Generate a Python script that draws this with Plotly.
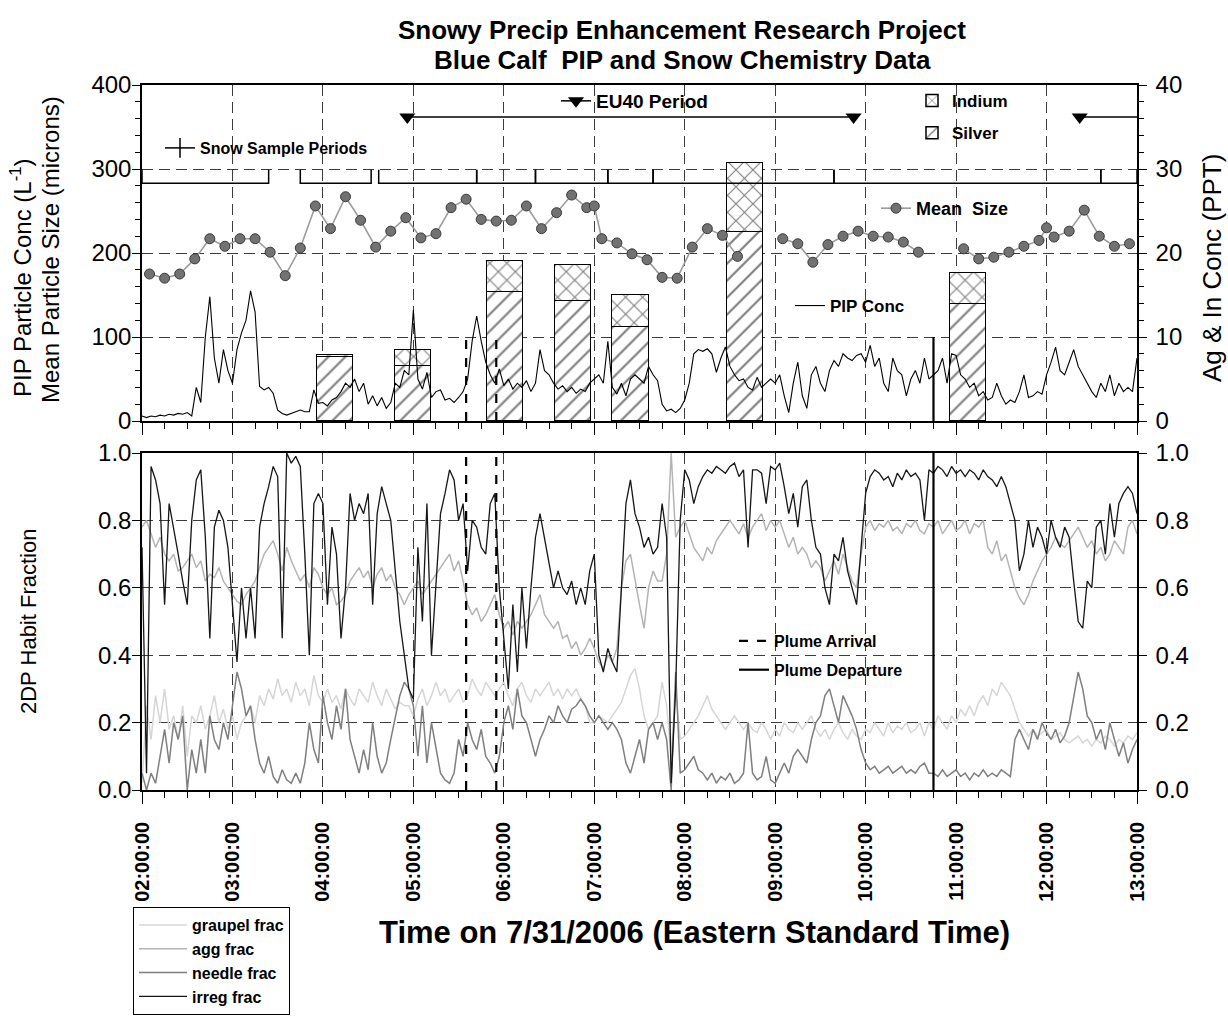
import pandas as pd
import plotly.graph_objects as go

DAY = "2006-07-31"

# ---------------- 3-minute PIP / 2DP records, 02:00 .. 13:00 ----------------
pip_conc = [
    6, 4, 6, 5, 7, 6, 8, 7, 9, 8, 10, 6, 40, 22, 100, 148, 75, 45, 85, 60,
    45, 85, 105, 120, 155, 130, 41, 37, 40, 33, 13, 9, 7, 9, 11, 13, 11, 11, 37, 21,
    22, 18, 25, 28, 35, 45, 40, 50, 35, 45, 20, 30, 18, 28, 15, 22, 45, 40, 60, 55,
    132, 50, 38, 58, 28, 35, 37, 25, 27, 22, 28, 35, 50, 95, 125, 95, 70, 55, 45, 62,
    42, 50, 38, 45, 40, 48, 35, 45, 85, 60, 55, 45, 38, 42, 35, 40, 33, 38, 35, 45,
    50, 55, 45, 95, 40, 32, 45, 30, 50, 55, 50, 45, 65, 55, 48, 20, 12, 14, 10, 15,
    25, 45, 80, 85, 83, 86, 80, 58, 75, 88, 65, 55, 48, 50, 40, 37, 52, 40, 45, 50,
    45, 55, 30, 10, 45, 70, 30, 15, 55, 65, 45, 35, 60, 72, 65, 80, 75, 72, 78, 80,
    70, 90, 65, 75, 45, 35, 75, 60, 55, 30, 50, 60, 45, 75, 50, 55, 60, 75, 45, 80,
    78, 55, 50, 40, 45, 30, 35, 25, 28, 45, 30, 20, 25, 22, 35, 55, 28, 30, 35, 32,
    55, 70, 88, 60, 55, 70, 85, 65, 55, 45, 35, 28, 45, 35, 55, 30, 45, 35, 40, 35,
    75,
]

irreg_frac = [
    0.72, 0.05, 0.96, 0.92, 0.85, 0.55, 0.85, 0.78, 0.70, 0.62, 0.55, 0.80, 0.92, 0.95, 0.75, 0.45, 0.78, 0.83, 0.80, 0.72,
    0.55, 0.38, 0.60, 0.45, 0.60, 0.45, 0.78, 0.85, 0.90, 0.96, 0.93, 0.45, 1.00, 0.97, 0.99, 0.96, 0.70, 0.40, 0.85, 0.88,
    0.85, 0.55, 0.78, 0.70, 0.45, 0.60, 0.88, 0.80, 0.85, 0.82, 0.88, 0.55, 0.82, 0.90, 0.85, 0.80, 0.65, 0.50, 0.40, 0.30,
    0.27, 0.72, 0.50, 0.85, 0.40, 0.60, 0.82, 0.88, 0.95, 0.92, 0.80, 0.85, 0.65, 0.80, 0.78, 0.72, 0.70, 0.85, 0.88, 0.60,
    0.45, 0.30, 0.55, 0.35, 0.60, 0.42, 0.60, 0.75, 0.82, 0.75, 0.68, 0.60, 0.65, 0.60, 0.58, 0.62, 0.55, 0.60, 0.55, 0.65,
    0.70, 0.40, 0.35, 0.42, 0.38, 0.35, 0.60, 0.85, 0.92, 0.82, 0.78, 0.72, 0.75, 0.70, 0.72, 0.85, 0.75, 0.02, 0.30, 0.80,
    0.95, 0.92, 0.85, 0.90, 0.93, 0.95, 0.94, 0.96, 0.95, 0.94, 0.96, 0.97, 0.93, 0.95, 0.72, 0.95, 0.95, 0.94, 0.85, 0.96,
    0.95, 0.97, 0.90, 0.82, 0.88, 0.78, 0.90, 0.92, 0.80, 0.72, 0.70, 0.60, 0.55, 0.70, 0.68, 0.75, 0.65, 0.60, 0.55, 0.72,
    0.88, 0.93, 0.95, 0.94, 0.92, 0.93, 0.90, 0.94, 0.92, 0.95, 0.93, 0.94, 0.92, 0.80, 0.95, 0.94, 0.96, 0.95, 0.93, 0.96,
    0.94, 0.95, 0.93, 0.95, 0.94, 0.92, 0.95, 0.93, 0.92, 0.90, 0.93, 0.90, 0.85, 0.80, 0.65, 0.70, 0.80, 0.72, 0.78, 0.75,
    0.70, 0.80, 0.75, 0.72, 0.78, 0.75, 0.62, 0.50, 0.48, 0.62, 0.60, 0.78, 0.80, 0.70, 0.85, 0.75, 0.85, 0.88, 0.90, 0.88,
    0.82,
]

agg_frac = [
    0.78, 0.80, 0.76, 0.72, 0.75, 0.70, 0.68, 0.70, 0.65, 0.66, 0.68, 0.70, 0.66, 0.68, 0.62, 0.64, 0.63, 0.66, 0.62, 0.60,
    0.58, 0.56, 0.55, 0.58, 0.60, 0.62, 0.66, 0.70, 0.72, 0.74, 0.70, 0.65, 0.72, 0.68, 0.65, 0.62, 0.64, 0.60, 0.66, 0.64,
    0.60, 0.58, 0.60, 0.55, 0.56, 0.58, 0.62, 0.64, 0.66, 0.63, 0.65, 0.60, 0.64, 0.66, 0.62, 0.64, 0.60, 0.58, 0.55, 0.58,
    0.60, 0.62, 0.58, 0.60, 0.62, 0.64, 0.66, 0.68, 0.70, 0.65, 0.68, 0.62, 0.55, 0.52, 0.54, 0.50, 0.52, 0.55, 0.58, 0.52,
    0.48, 0.50, 0.46, 0.50, 0.48, 0.50, 0.52, 0.55, 0.58, 0.52, 0.50, 0.48, 0.50, 0.45, 0.46, 0.42, 0.44, 0.40, 0.42, 0.45,
    0.42, 0.38, 0.36, 0.40, 0.38, 0.42, 0.60, 0.68, 0.70, 0.62, 0.55, 0.48, 0.60, 0.65, 0.62, 0.62, 0.70, 1.00, 0.75, 0.78,
    0.80, 0.76, 0.72, 0.70, 0.68, 0.72, 0.70, 0.74, 0.76, 0.78, 0.80, 0.78, 0.76, 0.79, 0.75, 0.78, 0.80, 0.82, 0.77, 0.80,
    0.78, 0.80, 0.76, 0.72, 0.75, 0.70, 0.72, 0.70, 0.66, 0.68, 0.66, 0.62, 0.65, 0.68, 0.64, 0.70, 0.66, 0.62, 0.60, 0.70,
    0.78, 0.80, 0.77, 0.79, 0.78, 0.80, 0.77, 0.78, 0.76, 0.79, 0.78, 0.80, 0.77, 0.76, 0.79, 0.78, 0.80, 0.76, 0.78, 0.80,
    0.77, 0.78, 0.80, 0.76, 0.79, 0.78, 0.80, 0.72, 0.70, 0.74, 0.68, 0.70, 0.65, 0.60, 0.57, 0.55, 0.58, 0.62, 0.65, 0.68,
    0.70, 0.72, 0.75, 0.73, 0.72, 0.74, 0.76, 0.78, 0.75, 0.72, 0.74, 0.70, 0.72, 0.68, 0.70, 0.74, 0.72, 0.70, 0.78, 0.80,
    0.76,
]

graupel_frac = [
    0.02, 0.25, 0.15, 0.28, 0.20, 0.30, 0.18, 0.22, 0.15, 0.25, 0.10, 0.22, 0.20, 0.25, 0.18, 0.22, 0.28, 0.20, 0.24, 0.18,
    0.22, 0.15, 0.20, 0.22, 0.25, 0.20, 0.28, 0.25, 0.30, 0.27, 0.33, 0.28, 0.30, 0.26, 0.32, 0.28, 0.30, 0.25, 0.34, 0.28,
    0.26, 0.30, 0.26, 0.28, 0.24, 0.30, 0.27, 0.25, 0.30, 0.28, 0.26, 0.32, 0.28, 0.25, 0.30, 0.27, 0.24, 0.26, 0.25, 0.25,
    0.22, 0.27, 0.30, 0.25, 0.28, 0.32, 0.28, 0.30, 0.26, 0.28, 0.30, 0.26, 0.28, 0.33, 0.30, 0.28, 0.32, 0.30, 0.28, 0.30,
    0.32, 0.28, 0.25, 0.30, 0.32, 0.28, 0.26, 0.30, 0.28, 0.30, 0.32, 0.28, 0.30, 0.27, 0.30, 0.28, 0.30, 0.27, 0.25, 0.20,
    0.20, 0.22, 0.21, 0.20, 0.22, 0.24, 0.26, 0.30, 0.34, 0.36, 0.30, 0.22, 0.18, 0.20, 0.22, 0.32, 0.25, 0.10, 0.30, 0.15,
    0.16, 0.18, 0.20, 0.22, 0.25, 0.28, 0.24, 0.22, 0.20, 0.18, 0.20, 0.22, 0.20, 0.18, 0.20, 0.18, 0.17, 0.20, 0.18, 0.15,
    0.18, 0.16, 0.20, 0.18, 0.17, 0.20, 0.18, 0.20, 0.22, 0.18, 0.16, 0.18, 0.15, 0.18, 0.20, 0.17, 0.15, 0.18, 0.16, 0.15,
    0.18, 0.17, 0.20, 0.18, 0.16, 0.20, 0.17, 0.19, 0.18, 0.20, 0.17, 0.18, 0.20, 0.16, 0.20, 0.18, 0.22, 0.20, 0.18, 0.22,
    0.20, 0.24, 0.22, 0.25, 0.22, 0.26, 0.28, 0.25, 0.30, 0.28, 0.32, 0.30, 0.28, 0.24, 0.20, 0.18, 0.16, 0.18, 0.16, 0.17,
    0.18, 0.15, 0.16, 0.17, 0.15, 0.14, 0.15, 0.16, 0.14, 0.15, 0.13, 0.15, 0.14, 0.16, 0.15, 0.13, 0.15, 0.14, 0.16, 0.15,
    0.17,
]

needle_frac = [
    0.05, 0.00, 0.05, 0.02, 0.10, 0.18, 0.08, 0.20, 0.15, 0.22, 0.00, 0.12, 0.05, 0.15, 0.05, 0.22, 0.15, 0.12, 0.20, 0.15,
    0.25, 0.35, 0.30, 0.22, 0.25, 0.15, 0.08, 0.05, 0.10, 0.04, 0.02, 0.06, 0.03, 0.02, 0.05, 0.02, 0.08, 0.20, 0.12, 0.08,
    0.28, 0.20, 0.15, 0.25, 0.18, 0.30, 0.15, 0.10, 0.05, 0.12, 0.06, 0.20, 0.10, 0.05, 0.08, 0.15, 0.22, 0.28, 0.32, 0.30,
    0.25, 0.10, 0.25, 0.08, 0.20, 0.12, 0.05, 0.03, 0.02, 0.05, 0.15, 0.10, 0.20, 0.15, 0.12, 0.18, 0.10, 0.08, 0.05, 0.10,
    0.20, 0.25, 0.18, 0.30, 0.22, 0.20, 0.15, 0.10, 0.15, 0.18, 0.22, 0.20, 0.25, 0.22, 0.20, 0.24, 0.25, 0.27, 0.25, 0.22,
    0.20, 0.22, 0.20, 0.18, 0.20, 0.18, 0.15, 0.08, 0.05, 0.10, 0.15, 0.08, 0.18, 0.20, 0.15, 0.20, 0.15, 0.00, 0.35, 0.05,
    0.06, 0.08, 0.10, 0.06, 0.05, 0.03, 0.05, 0.02, 0.04, 0.03, 0.05, 0.02, 0.03, 0.05, 0.20, 0.05, 0.03, 0.04, 0.10, 0.03,
    0.02, 0.05, 0.08, 0.05, 0.10, 0.12, 0.10, 0.08, 0.15, 0.20, 0.22, 0.28, 0.30, 0.25, 0.20, 0.28, 0.25, 0.22, 0.18, 0.12,
    0.08, 0.06, 0.07, 0.05, 0.06, 0.07, 0.05, 0.06, 0.07, 0.05, 0.06, 0.05, 0.07, 0.08, 0.05, 0.05, 0.04, 0.06, 0.04, 0.05,
    0.06, 0.04, 0.05, 0.03, 0.05, 0.04, 0.06, 0.04, 0.05, 0.04, 0.06, 0.05, 0.04, 0.15, 0.18, 0.15, 0.12, 0.18, 0.15, 0.20,
    0.17, 0.15, 0.18, 0.14, 0.16, 0.20, 0.28, 0.35, 0.30, 0.22, 0.20, 0.15, 0.18, 0.12, 0.20, 0.15, 0.10, 0.14, 0.08, 0.12,
    0.15,
]

# ---------------- 10-minute mean particle size (microns) ----------------
size_times = [
    "02:05", "02:15", "02:25", "02:35", "02:45", "02:55",
    "03:05", "03:15", "03:25", "03:35", "03:45", "03:55",
    "04:05", "04:15", "04:25", "04:35", "04:45", "04:55",
    "05:05", "05:15", "05:25", "05:35", "05:45", "05:55",
    "06:05", "06:15", "06:25", "06:35", "06:45", "06:55", "07:00",
    "07:05", "07:15", "07:25", "07:35", "07:45", "07:55",
    "08:05", "08:15", "08:25", "08:35", "08:45", "08:55",
    "09:05", "09:15", "09:25", "09:35", "09:45", "09:55",
    "10:05", "10:15", "10:25", "10:35", "10:45", "10:55",
    "11:05", "11:15", "11:25", "11:35", "11:45", "11:55", "12:00",
    "12:05", "12:15", "12:25", "12:35", "12:45", "12:55",
]
mean_size = [
    175, 170, 175, 193, 217, 208,
    217, 217, 201, 173, 206, 256,
    229, 267, 239, 207, 226, 242,
    218, 223, 254, 264, 240, 238,
    239, 256, 229, 248, 269, 254, 256,
    217, 212, 199, 192, 171, 170,
    207, 229, 221, 196, None, None,
    217, 211, 189, 210, 220, 226,
    220, 219, 213, 201, None, None,
    205, 193, 195, 201, 208, 215, 230,
    219, 226, 251, 220, 208, 211,
]

# ---------------- snow chemistry (PPT) ----------------
chem_times = ["04:08", "05:00", "06:01", "06:46", "07:24", "08:40", "11:08"]
silver_ppt = [7.6, 6.6, 15.3, 14.3, 11.2, 22.5, 13.9]
indium_ppt = [0.25, 1.9, 3.7, 4.3, 3.85, 8.25, 3.7]

# snow sample periods (start, end)
sample_starts = ["02:00", "03:45", "04:37", "05:42", "06:21", "07:09", "07:39", "09:39", "12:36"]
sample_ends = ["03:24", "04:32", "05:42", "06:21", "07:09", "07:39", "09:39", "12:36", "13:00"]

# EU40 generator periods
eu40_starts = ["04:56", "12:22"]
eu40_ends = ["09:52", "13:00"]

plume_arrival = ["05:35", "05:55"]
plume_departure = ["10:45"]

# ---------------- geometry / styling ----------------
FONT = "Liberation Sans, Arial, Helvetica, sans-serif"
W, H = 1228, 1017
ML, MR, MT, MB = 142, 91, 85, 227
PW, PH = W - ML - MR, H - MT - MB

SAMPLE_BASE, SAMPLE_TICK = 283, 299     # left-axis units
EU40_LEVEL = 362                       # left-axis units
PLUME_TOP_UPPER = 100                  # left-axis units
CHEM_WIDTH_MS = 24 * 60 * 1000
GRID = "#3c3c3c"


def ts(hhmm):
    return pd.Timestamp(f"{DAY} {hhmm}")


def px_x(x):
    return (x - ML) / PW


def px_y(y):
    return (H - MB - y) / PH


def rec_index(values):
    return pd.date_range(ts("02:00"), periods=len(values), freq="3min")


T0, T1 = ts("02:00"), ts("13:00")

fig = go.Figure()

# ---- chemistry bars (right axis, base layer) ----
chem_x = [ts(t) for t in chem_times]
fig.add_trace(go.Bar(
    x=chem_x, y=silver_ppt, width=CHEM_WIDTH_MS, name="Silver",
    xaxis="x", yaxis="y", legend="legend", legendrank=2, legendgroup="ag",
    marker=dict(color="white", line=dict(color="black", width=1.5),
                pattern=dict(shape="/", fgcolor="black", bgcolor="white", size=12, solidity=0.18)),
))
fig.add_trace(go.Bar(
    x=chem_x, y=indium_ppt, width=CHEM_WIDTH_MS, name="Indium",
    xaxis="x", yaxis="y", legend="legend", legendrank=1, legendgroup="in",
    marker=dict(color="white", line=dict(color="black", width=1.5),
                pattern=dict(shape="x", fgcolor="black", bgcolor="white", size=12, solidity=0.18)),
))

# ---- snow sample brackets ----
sx, sy = [], []
for s, e in zip(sample_starts, sample_ends):
    sx += [ts(s), ts(s), ts(e), ts(e), None]
    sy += [SAMPLE_TICK, SAMPLE_BASE, SAMPLE_BASE, SAMPLE_TICK, None]
fig.add_trace(go.Scatter(x=sx, y=sy, mode="lines", xaxis="x", yaxis="y2",
                         line=dict(color="black", width=1.5), showlegend=False, hoverinfo="skip"))
fig.add_trace(go.Scatter(x=[None], y=[None], mode="lines+markers", name="Snow Sample Periods",
                         xaxis="x", yaxis="y2", legend="legend5",
                         line=dict(color="black", width=1.5),
                         marker=dict(symbol="line-ns", size=14, line=dict(color="black", width=1.5))))

# ---- EU40 periods ----
ex, ey, mx, my = [], [], [], []
for s, e in zip(eu40_starts, eu40_ends):
    ex += [ts(s), ts(e), None]
    ey += [EU40_LEVEL, EU40_LEVEL, None]
    for t in (ts(s), ts(e)):
        if T0 < t < T1:
            mx.append(t)
            my.append(EU40_LEVEL)
fig.add_trace(go.Scatter(x=ex, y=ey, mode="lines", xaxis="x", yaxis="y2",
                         line=dict(color="black", width=1.5), showlegend=False, hoverinfo="skip"))
fig.add_trace(go.Scatter(x=mx, y=my, mode="markers", xaxis="x", yaxis="y2",
                         marker=dict(symbol="triangle-down", size=14, color="black"),
                         showlegend=False, hoverinfo="skip"))
fig.add_trace(go.Scatter(x=[None], y=[None], mode="lines+markers", name="EU40 Period",
                         xaxis="x", yaxis="y2", legend="legend4",
                         line=dict(color="black", width=1.5),
                         marker=dict(symbol="triangle-down", size=14, color="black")))

# ---- PIP concentration and mean size ----
fig.add_trace(go.Scatter(x=rec_index(pip_conc), y=pip_conc, mode="lines", name="PIP Conc",
                         xaxis="x", yaxis="y2", legend="legend3",
                         line=dict(color="black", width=1.1)))
fig.add_trace(go.Scatter(x=[ts(t) for t in size_times], y=mean_size, mode="lines+markers",
                         name="Mean\u00a0 Size", xaxis="x", yaxis="y2", legend="legend2",
                         line=dict(color="#9c9c9c", width=1.6),
                         marker=dict(size=10, color="#727272", line=dict(color="#3a3a3a", width=1))))


def vlines(times, lo, hi):
    xs, ys = [], []
    for t in times:
        xs += [ts(t), ts(t), None]
        ys += [lo, hi, None]
    return xs, ys


# ---- 2DP habit fractions ----
frac_series = [
    ("graupel frac", graupel_frac, "#d6d6d6", 1.5),
    ("agg frac", agg_frac, "#b4b4b4", 1.5),
    ("needle frac", needle_frac, "#7f7f7f", 1.5),
    ("irreg frac", irreg_frac, "#161616", 1.3),
]
for name, vals, col, w in frac_series:
    fig.add_trace(go.Scatter(x=rec_index(vals), y=vals, mode="lines", name=name,
                             xaxis="x2", yaxis="y3", legend="legend7",
                             line=dict(color=col, width=w)))

# invisible twin so the right-hand fraction axis is drawn
fig.add_trace(go.Scatter(x=rec_index(irreg_frac), y=irreg_frac, mode="lines", xaxis="x2", yaxis="y4",
                         line=dict(width=0), opacity=0, showlegend=False, hoverinfo="skip"))

# ---- plume arrival / departure markers ----
ax, ay = vlines(plume_arrival, 0, PLUME_TOP_UPPER)
fig.add_trace(go.Scatter(x=ax, y=ay, mode="lines", xaxis="x", yaxis="y2", showlegend=False,
                         line=dict(color="black", width=2.2, dash="dash"), hoverinfo="skip"))
dx, dy = vlines(plume_departure, 0, PLUME_TOP_UPPER)
fig.add_trace(go.Scatter(x=dx, y=dy, mode="lines", xaxis="x", yaxis="y2", showlegend=False,
                         line=dict(color="black", width=2.2), hoverinfo="skip"))
ax, ay = vlines(plume_arrival, 0, 1)
fig.add_trace(go.Scatter(x=ax, y=ay, mode="lines", xaxis="x2", yaxis="y3", name="Plume Arrival",
                         legend="legend6", legendgroup="arr",
                         line=dict(color="black", width=2.2, dash="dash")))
dx, dy = vlines(plume_departure, 0, 1)
fig.add_trace(go.Scatter(x=dx, y=dy, mode="lines", xaxis="x2", yaxis="y3", name="Plume Departure",
                         legend="legend6", legendgroup="dep",
                         line=dict(color="black", width=2.2)))

# ---------------- axes ----------------
tickfont = dict(family=FONT, size=24, color="black")
xcommon = dict(
    type="date", range=[T0, T1], tick0=T0, dtick=3600000, tickformat="%H:%M:%S",
    ticks="outside", ticklen=12, tickwidth=1.3, tickcolor="black",
    minor=dict(dtick=900000, tick0=T0, ticks="outside", ticklen=6, tickwidth=1.2, tickcolor="black", showgrid=False),
    showgrid=True, gridcolor=GRID, gridwidth=1.3, griddash="11px,6px",
    showline=True, linecolor="black", linewidth=1.5, mirror=True, zeroline=False, automargin=False,
)
ycommon = dict(
    ticks="outside", ticklen=8, tickwidth=1.3, tickcolor="black",
    showline=True, linecolor="black", linewidth=1.5, zeroline=False, automargin=False,
    tickfont=tickfont,
)
top_dom = [px_y(421), 1.0]
bot_dom = [0.0, px_y(453)]

fig.update_layout(
    xaxis=dict(domain=[0, 1], anchor="y", showticklabels=False, **xcommon),
    xaxis2=dict(domain=[0, 1], anchor="y3", matches="x", showticklabels=True, tickangle=-90,
                ticklabelstandoff=10,
                tickfont=dict(family=FONT, size=20, color="black", weight="bold"), **xcommon),
    yaxis=dict(domain=top_dom, anchor="x", side="right", range=[0, 40], dtick=10, ticklabelstandoff=4,
               minor=dict(dtick=2, ticks="outside", ticklen=5, tickcolor="black", showgrid=False),
               showgrid=True, gridcolor=GRID, gridwidth=1.3, griddash="11px,6px", **ycommon),
    yaxis2=dict(anchor="x", overlaying="y", side="left", range=[0, 400], dtick=100, ticklabelstandoff=-4,
                minor=dict(dtick=20, ticks="outside", ticklen=5, tickcolor="black", showgrid=False),
                showgrid=False, **ycommon),
    yaxis3=dict(domain=bot_dom, anchor="x2", range=[0, 1], dtick=0.2, tickformat=".1f", ticklabelstandoff=-4,
                showgrid=True, gridcolor=GRID, gridwidth=1.3, griddash="11px,6px", **ycommon),
    yaxis4=dict(anchor="x2", overlaying="y3", side="right", range=[0, 1], dtick=0.2, tickformat=".1f",
                ticklabelstandoff=4, showgrid=False, **ycommon),
    barmode="stack",
    bargap=0,
    width=W, height=H,
    margin=dict(l=ML, r=MR, t=MT, b=MB, autoexpand=False),
    paper_bgcolor="white", plot_bgcolor="white",
    font=dict(family=FONT, color="black"),
    showlegend=True,
    hovermode=False,
)

legend_base = dict(xanchor="left", yanchor="top", bgcolor="rgba(0,0,0,0)", borderwidth=0,
                   itemclick=False, itemdoubleclick=False)
fig.update_layout(
    legend=dict(x=px_x(912), y=px_y(83), traceorder="grouped", tracegroupgap=7,
                font=dict(family=FONT, size=17, weight="bold"), **legend_base),
    legend2=dict(x=px_x(876), y=px_y(190), font=dict(family=FONT, size=18, weight="bold"), **legend_base),
    legend3=dict(x=px_x(790), y=px_y(288), font=dict(family=FONT, size=17, weight="bold"), **legend_base),
    legend4=dict(x=px_x(556), y=px_y(82), font=dict(family=FONT, size=19, weight="bold"), **legend_base),
    legend5=dict(x=px_x(160), y=px_y(131), font=dict(family=FONT, size=16, weight="bold"), **legend_base),
    legend6=dict(x=px_x(734), y=px_y(624), traceorder="grouped", tracegroupgap=5,
                 font=dict(family=FONT, size=16, weight="bold"), **legend_base),
    legend7=dict(x=px_x(133), y=px_y(907), xanchor="left", yanchor="top", bgcolor="white",
                 bordercolor="black", borderwidth=1, itemclick=False, itemdoubleclick=False,
                 font=dict(family=FONT, size=16, weight="bold"), itemwidth=48),
)


def note(text, x, y, size, bold=False, angle=0):
    return dict(text=f"<b>{text}</b>" if bold else text, x=px_x(x), y=px_y(y),
                xref="paper", yref="paper", showarrow=False, xanchor="center", yanchor="middle",
                textangle=angle, font=dict(family=FONT, size=size, color="black"))


fig.update_layout(annotations=[
    note("Snowy Precip Enhancement Research Project", 682, 30, 26, bold=True),
    note("Blue Calf\u00a0 PIP and Snow Chemistry Data", 682, 60, 26, bold=True),
    note("Time on 7/31/2006 (Eastern Standard Time)", 694, 932, 31, bold=True),
    note("PIP Particle Conc (L<sup>-1</sup>)", 21, 278, 24, angle=-90),
    note("Mean Particle Size (microns)", 50, 250, 24, angle=-90),
    note("Ag &amp; In Conc (PPT)", 1212, 268, 26, angle=-90),
    note("2DP Habit Fraction", 28, 622, 22, angle=-90),
])

fig.write_html("out.html")
